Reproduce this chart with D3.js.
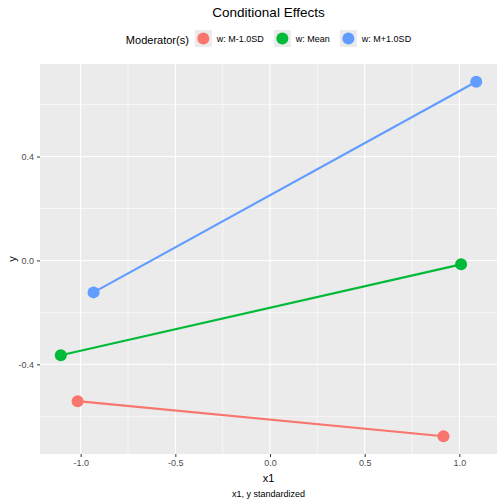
<!DOCTYPE html>
<html>
<head>
<meta charset="utf-8">
<script src="https://cdn.jsdelivr.net/npm/d3@7"></script>
<style>
  body { margin: 0; background: #fff; }
  text { font-family: "Liberation Sans", Arial, sans-serif; }
</style>
</head>
<body>
<div id="chart"></div>
<script>
// values
const groups = ['w: M-1.0SD', 'w: Mean', 'w: M+1.0SD'];
const colors = ['#F8766D', '#00BA38', '#619CFF'];
const x1Start = [-1.016, -1.105, -0.932];
const x1End = [0.916, 1.009, 1.089];
const yStart = [-0.542, -0.365, -0.123];
const yEnd = [-0.677, -0.015, 0.688];
const xTicks = [-1.0, -0.5, 0.0, 0.5, 1.0];
const yTicks = [-0.4, 0.0, 0.4];

const width = 504, height = 504;
const margin = { top: 64, right: 7, bottom: 50, left: 40 };
const pw = width - margin.left - margin.right;
const ph = height - margin.top - margin.bottom;

const series = groups.map((g, i) => ({
  name: g, color: colors[i],
  pts: [{ x: x1Start[i], y: yStart[i] }, { x: x1End[i], y: yEnd[i] }]
}));

const allX = x1Start.concat(x1End), allY = yStart.concat(yEnd);
const xr = d3.extent(allX), yr = d3.extent(allY);
const xpad = (xr[1] - xr[0]) * 0.05, ypad = (yr[1] - yr[0]) * 0.05;

const x = d3.scaleLinear().domain([xr[0] - xpad, xr[1] + xpad]).range([0, pw]);
const y = d3.scaleLinear().domain([yr[0] - ypad, yr[1] + ypad]).range([ph, 0]);

const svg = d3.select('#chart').append('svg')
  .attr('width', width)
  .attr('height', height);

const g = svg.append('g')
  .attr('transform', `translate(${margin.left},${margin.top})`);

g.append('rect')
  .attr('width', pw)
  .attr('height', ph)
  .attr('fill', '#EBEBEB');

// minor grid
const xMinor = xTicks.slice(0, -1).map((t, i) => (t + xTicks[i + 1]) / 2)
  .concat([xTicks[0] - 0.25, xTicks[xTicks.length - 1] + 0.25])
  .filter(v => v > x.domain()[0] && v < x.domain()[1]);
const yMinor = yTicks.slice(0, -1).map((t, i) => (t + yTicks[i + 1]) / 2)
  .concat([yTicks[0] - 0.2, yTicks[yTicks.length - 1] + 0.2])
  .filter(v => v > y.domain()[0] && v < y.domain()[1]);

g.selectAll('.xminor').data(xMinor).enter().append('line')
  .attr('x1', d => x(d)).attr('x2', d => x(d))
  .attr('y1', 0).attr('y2', ph)
  .attr('stroke', '#fff').attr('stroke-width', 0.6);
g.selectAll('.yminor').data(yMinor).enter().append('line')
  .attr('y1', d => y(d)).attr('y2', d => y(d))
  .attr('x1', 0).attr('x2', pw)
  .attr('stroke', '#fff').attr('stroke-width', 0.6);

// major grid
g.selectAll('.xmajor').data(xTicks).enter().append('line')
  .attr('x1', d => x(d)).attr('x2', d => x(d))
  .attr('y1', 0).attr('y2', ph)
  .attr('stroke', '#fff').attr('stroke-width', 1.1);
g.selectAll('.ymajor').data(yTicks).enter().append('line')
  .attr('y1', d => y(d)).attr('y2', d => y(d))
  .attr('x1', 0).attr('x2', pw)
  .attr('stroke', '#fff').attr('stroke-width', 1.1);

// axes
const xAxis = g.append('g')
  .attr('transform', `translate(0,${ph})`)
  .call(d3.axisBottom(x).tickValues(xTicks).tickFormat(d3.format('.1f')).tickSize(3).tickPadding(3));
const yAxis = g.append('g')
  .call(d3.axisLeft(y).tickValues(yTicks).tickFormat(d3.format('.1f')).tickSize(3).tickPadding(3));

[xAxis, yAxis].forEach(a => {
  a.select('.domain').remove();
  a.selectAll('line').attr('stroke', '#333333').attr('stroke-width', 1);
  a.selectAll('text')
    .attr('fill', '#4D4D4D')
    .style('font-size', '9px')
    .style('font-family', '"Liberation Sans", Arial, sans-serif');
});
// use real minus sign like R does not: R uses hyphen
xAxis.selectAll('text').text(d => d3.format('.1f')(d).replace('−', '-'));
yAxis.selectAll('text').text(d => d3.format('.1f')(d).replace('−', '-'));

// lines and points
const line = d3.line().x(d => x(d.x)).y(d => y(d.y));
g.selectAll('.series').data(series).enter().append('path')
  .attr('d', d => line(d.pts))
  .attr('fill', 'none')
  .attr('stroke', d => d.color)
  .attr('stroke-width', 2.2);

series.forEach(s => {
  g.selectAll(null).data(s.pts).enter().append('circle')
    .attr('cx', d => x(d.x))
    .attr('cy', d => y(d.y))
    .attr('r', 6)
    .attr('fill', s.color);
});

// titles
const cx = margin.left + pw / 2;
svg.append('text')
  .attr('x', cx).attr('y', 17)
  .attr('text-anchor', 'middle')
  .style('font-size', '13.5px')
  .attr('fill', '#000')
  .text('Conditional Effects');

svg.append('text')
  .attr('x', cx).attr('y', height - 22)
  .attr('text-anchor', 'middle')
  .style('font-size', '11px')
  .text('x1');

svg.append('text')
  .attr('x', cx).attr('y', height - 7)
  .attr('text-anchor', 'middle')
  .style('font-size', '9px')
  .text('x1, y standardized');

svg.append('text')
  .attr('transform', `translate(16,${margin.top + ph / 2}) rotate(-90)`)
  .attr('text-anchor', 'middle')
  .style('font-size', '11px')
  .text('y');

// legend
const legend = svg.append('g');
const lt = legend.append('text')
  .attr('x', 0).attr('y', 44)
  .style('font-size', '11px')
  .text('Moderator(s)');
let lx = lt.node().getComputedTextLength() + 6;
groups.forEach((name, i) => {
  legend.append('rect')
    .attr('x', lx).attr('y', 30)
    .attr('width', 17).attr('height', 17)
    .attr('fill', '#EBEBEB');
  legend.append('circle')
    .attr('cx', lx + 8.5).attr('cy', 38.5)
    .attr('r', 6)
    .attr('fill', colors[i]);
  const t = legend.append('text')
    .attr('x', lx + 22).attr('y', 42)
    .style('font-size', '9px')
    .text(name);
  lx += 22 + t.node().getComputedTextLength() + 10;
});
const lw = lx - 10;
legend.attr('transform', `translate(${cx - lw / 2},0)`);
</script>
</body>
</html>
